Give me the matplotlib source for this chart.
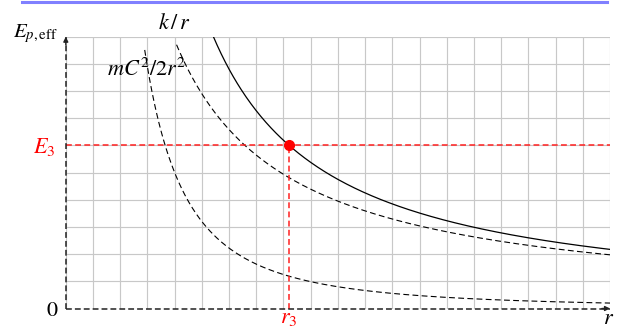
import matplotlib
matplotlib.use('Agg')
import matplotlib.pyplot as plt
from matplotlib.lines import Line2D
import numpy as np

plt.rcParams['mathtext.fontset'] = 'stix'
plt.rcParams['font.family'] = 'STIXGeneral'
plt.rcParams['lines.scale_dashes'] = False

# potential coefficients (grid units)
k_coef = 39.5          # k/r term
c_coef = 80.0          # mC^2/2r^2 term
E3 = 6.0               # energy level
r_max = 20.0
y_max = 10.0
r_start_total = 5.42
r_start_k = 4.07
r_start_c = 2.9

# r3 where the effective potential equals E3
r3 = (k_coef + np.sqrt(k_coef**2 + 4 * E3 * c_coef)) / (2 * E3)

W, H = 623, 329
fig = plt.figure(figsize=(W / 100, H / 100), dpi=100)
x0, x1 = 65.8, 610.0
y0, y1 = 308.5, 36.7
ax = fig.add_axes([x0 / W, (H - y0) / H, (x1 - x0) / W, (y0 - y1) / H])
ax.set_xlim(0, r_max)
ax.set_ylim(0, y_max)
ax.axis('off')

# grid
for i in range(int(r_max) + 1):
    ax.plot([i, i], [0, y_max], color='#c8c8c8', lw=0.85, zorder=1)
for j in range(int(y_max) + 1):
    ax.plot([0, r_max], [j, j], color='#c8c8c8', lw=0.85, zorder=1)

dash = (0, (4.2, 2.4))

r = np.linspace(r_start_k, r_max, 400)
ax.plot(r, k_coef / r, color='black', lw=0.8, ls=dash, zorder=3)
r = np.linspace(r_start_c, r_max, 400)
ax.plot(r, c_coef / r**2, color='black', lw=0.8, ls=dash, zorder=3)
r = np.linspace(r_start_total, r_max, 400)
ax.plot(r, k_coef / r + c_coef / r**2, color='black', lw=0.9, zorder=3)

# energy level and turning point
ax.plot([0, r_max], [E3, E3], color='#ff2020', lw=1.1, ls=dash, zorder=4)
ax.plot([r3, r3], [0, E3], color='#ff2020', lw=1.1, ls=dash, zorder=4)
ax.plot([r3], [E3], 'o', color='red', ms=7, zorder=5)

# axes
axdash = (0, (4.2, 2.2))
ax.plot([0, r_max], [0, 0], color='#222222', lw=1.1, ls=axdash, zorder=6, clip_on=False)
ax.plot([0, 0], [0, y_max], color='#222222', lw=1.1, ls=axdash, zorder=6, clip_on=False)
arr = dict(arrowstyle='-|>', color='#222222', lw=1.0, mutation_scale=7,
           shrinkA=0, shrinkB=0)
ax.annotate('', xy=(r_max, 0), xytext=(r_max - 0.3, 0), arrowprops=arr, zorder=7)
ax.annotate('', xy=(0, y_max), xytext=(0, y_max - 0.3), arrowprops=arr, zorder=7)

fs = 16
ax.text(-0.3, 9.98, r'$E_{p,\mathrm{eff}}$', ha='right', va='baseline', fontsize=15)
ax.text(3.97, 10.28, r'$k\,/\,r$', ha='center', va='baseline', fontsize=fs)
ax.text(2.95, 8.55, r'$mC^2/2r^2$', ha='center', va='baseline', fontsize=fs)
ax.text(-0.38, 5.71, r'$E_3$', ha='right', va='baseline', fontsize=fs, color='red')
ax.text(-0.27, -0.27, r'$0$', ha='right', va='baseline', fontsize=fs)
ax.text(r3, -0.55, r'$r_3$', ha='center', va='baseline', fontsize=fs, color='red')
ax.text(r_max - 0.05, -0.57, r'$r$', ha='center', va='baseline', fontsize=fs)

# header rule
fig.add_artist(Line2D([22 / W, 607 / W], [1 - 1.5 / H, 1 - 1.5 / H],
                      transform=fig.transFigure, color='#8080ff', lw=2.2))

fig.savefig('out.png', dpi=100)
